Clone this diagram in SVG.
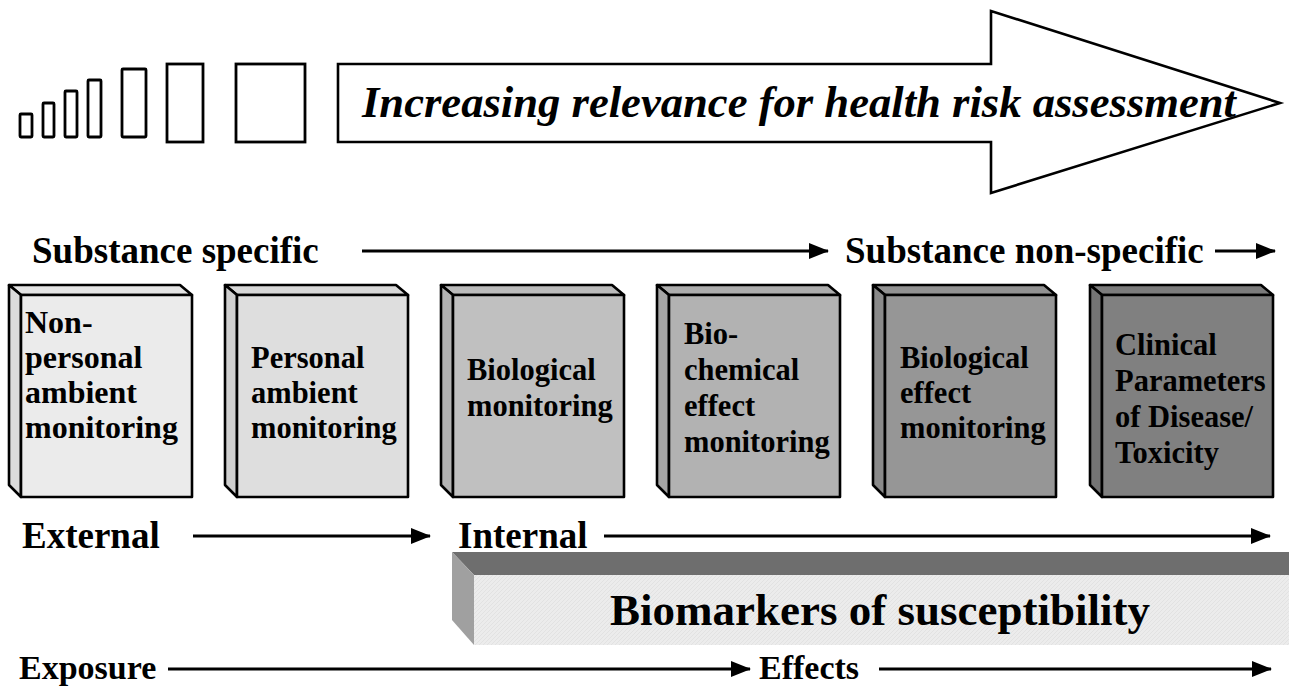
<svg xmlns="http://www.w3.org/2000/svg" width="1289" height="698" viewBox="0 0 1289 698">
  <defs>
    <style>
      .lbl { font-family: "Liberation Serif", "Times New Roman", serif; font-weight: bold; fill: #000; }
      .row { font-size: 37px; }
      .low { font-size: 34px; }
      .box-text { font-size: 30.5px; }
      .face { stroke: #000; stroke-width: 2.6; stroke-linejoin: round; }
      .bar { fill: #fff; stroke: #000; stroke-width: 2.8; }
      .conn { stroke: #000; stroke-width: 2.8; fill: none; marker-end: url(#head); }
    </style>
    <marker id="head" markerUnits="userSpaceOnUse" markerWidth="20" markerHeight="16" refX="19" refY="8" orient="auto">
      <path d="M0,0 L20,8 L0,16 Z" fill="#000"/>
    </marker>
    <pattern id="grain" width="4" height="4" patternUnits="userSpaceOnUse">
      <rect width="4" height="4" fill="#ececec"/>
      <path d="M0,4 L4,0" stroke="#e0e0e0" stroke-width="0.8"/>
    </pattern>
  </defs>

  <!-- growing bars -->
  <g id="scale-bars">
    <rect class="bar" x="20" y="114" width="12" height="23" rx="1"/>
    <rect class="bar" x="43" y="103" width="11" height="34" rx="1"/>
    <rect class="bar" x="65" y="91" width="12" height="46" rx="1"/>
    <rect class="bar" x="88" y="80" width="13" height="57" rx="1"/>
    <rect class="bar" x="122" y="69" width="24" height="68" rx="1"/>
    <rect class="bar" x="167" y="64" width="36" height="78"/>
    <rect class="bar" x="236" y="64" width="69" height="78"/>
  </g>

  <!-- relevance arrow -->
  <g id="relevance-arrow">
    <polygon points="338,64 991,64 991,11 1280,103 991,193 991,142 338,142" fill="#fff" stroke="#000" stroke-width="2.6" stroke-linejoin="miter"/>
    <text class="lbl" x="362" y="117" font-size="44" font-style="italic" textLength="874" lengthAdjust="spacingAndGlyphs">Increasing relevance for health risk assessment</text>
  </g>

  <!-- row labels -->
  <g id="labels">
    <text class="lbl row" x="32" y="263">Substance specific</text>
    <text class="lbl row" x="845" y="263">Substance non-specific</text>
    <text class="lbl row" x="22" y="548">External</text>
    <text class="lbl row" x="458" y="548">Internal</text>
    <text class="lbl low" x="19" y="679">Exposure</text>
    <text class="lbl low" x="759" y="679">Effects</text>
  </g>

  <!-- monitoring blocks -->
  <g id="box-nonpersonal">
    <polygon class="face" fill="#e4e4e4" points="9,285 180,285 192,295 21,295"/>
    <polygon class="face" fill="#dcdcdc" points="9,285 21,295 21,497 9,485"/>
    <rect class="face" fill="#ebebeb" x="21" y="295" width="171" height="202"/>
    <text class="lbl box-text" style="font-size:32px"><tspan x="25" y="333">Non-</tspan><tspan x="25" y="368">personal</tspan><tspan x="25" y="403">ambient</tspan><tspan x="25" y="438">monitoring</tspan></text>
  </g>

  <g id="box-personal">
    <polygon class="face" fill="#d7d7d7" points="225,285 396,285 408,295 237,295"/>
    <polygon class="face" fill="#cfcfcf" points="225,285 237,295 237,497 225,485"/>
    <rect class="face" fill="#dedede" x="237" y="295" width="171" height="202"/>
    <text class="lbl box-text"><tspan x="251" y="368">Personal</tspan><tspan x="251" y="403">ambient</tspan><tspan x="251" y="438">monitoring</tspan></text>
  </g>

  <g id="box-biological">
    <polygon class="face" fill="#bbbbbb" points="441,285 612,285 624,295 453,295"/>
    <polygon class="face" fill="#b3b3b3" points="441,285 453,295 453,497 441,485"/>
    <rect class="face" fill="#c0c0c0" x="453" y="295" width="171" height="202"/>
    <text class="lbl box-text"><tspan x="467" y="380">Biological</tspan><tspan x="467" y="416">monitoring</tspan></text>
  </g>

  <g id="box-biochemical">
    <polygon class="face" fill="#adadad" points="657,285 828,285 840,295 669,295"/>
    <polygon class="face" fill="#a5a5a5" points="657,285 669,295 669,497 657,485"/>
    <rect class="face" fill="#b2b2b2" x="669" y="295" width="171" height="202"/>
    <text class="lbl box-text"><tspan x="684" y="344">Bio-</tspan><tspan x="684" y="380">chemical</tspan><tspan x="684" y="416">effect</tspan><tspan x="684" y="452">monitoring</tspan></text>
  </g>

  <g id="box-effect">
    <polygon class="face" fill="#929292" points="873,285 1044,285 1056,295 885,295"/>
    <polygon class="face" fill="#8a8a8a" points="873,285 885,295 885,497 873,485"/>
    <rect class="face" fill="#969696" x="885" y="295" width="171" height="202"/>
    <text class="lbl box-text"><tspan x="900" y="368">Biological</tspan><tspan x="900" y="403">effect</tspan><tspan x="900" y="438">monitoring</tspan></text>
  </g>

  <g id="box-clinical">
    <polygon class="face" fill="#7c7c7c" points="1090,285 1261,285 1273,295 1102,295"/>
    <polygon class="face" fill="#747474" points="1090,285 1102,295 1102,497 1090,485"/>
    <rect class="face" fill="#808080" x="1102" y="295" width="171" height="202"/>
    <text class="lbl box-text"><tspan x="1115" y="355">Clinical</tspan><tspan x="1115" y="391">Parameters</tspan><tspan x="1115" y="427">of Disease/</tspan><tspan x="1115" y="463">Toxicity</tspan></text>
  </g>

  <!-- susceptibility slab -->
  <g id="susceptibility">
    <polygon fill="#6e6e6e" points="452,552 1289,552 1289,575 474,575"/>
    <polygon fill="#a0a0a0" points="452,552 474,575 474,645 452,620"/>
    <rect fill="url(#grain)" x="474" y="575" width="815" height="70"/>
    <text class="lbl" x="880" y="625" font-size="45" text-anchor="middle">Biomarkers of susceptibility</text>
  </g>

  <!-- connectors -->
  <g id="connectors">
    <line class="conn" x1="362" y1="251" x2="828" y2="251"/>
    <line class="conn" x1="1215" y1="251" x2="1275" y2="251"/>
    <line class="conn" x1="193" y1="536" x2="430" y2="536"/>
    <line class="conn" x1="604" y1="536" x2="1270" y2="536"/>
    <line class="conn" x1="168" y1="669" x2="750" y2="669"/>
    <line class="conn" x1="879" y1="669" x2="1271" y2="669"/>
  </g>
</svg>
